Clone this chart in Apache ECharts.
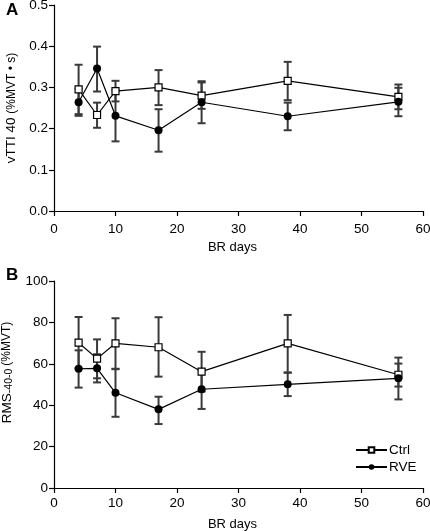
<!DOCTYPE html>
<html>
<head>
<meta charset="utf-8">
<script src="https://cdn.jsdelivr.net/npm/echarts@6/dist/echarts.min.js"></script>
<style>
html,body{margin:0;padding:0;background:#fff;}
#chart{width:430px;height:531px;}
</style>
</head>
<body>
<div id="chart"></div>
<script>
// ---- data ----
var days = [4, 7, 10, 17, 24, 38, 56];
var xTicks = [0, 10, 20, 30, 40, 50, 60];

// Panel A: vTTI40
var ctrlA   = [0.295, 0.233, 0.291, 0.300, 0.280, 0.316, 0.277];
var ctrlAHi = [0.355, 0.263, 0.316, 0.342, 0.312, 0.362, 0.307];
var ctrlALo = [0.235, 0.202, 0.266, 0.257, 0.248, 0.269, 0.247];
var rveA    = [0.264, 0.346, 0.231, 0.196, 0.264, 0.230, 0.265];
var rveAHi  = [0.297, 0.399, 0.293, 0.247, 0.315, 0.263, 0.299];
var rveALo  = [0.231, 0.290, 0.169, 0.144, 0.213, 0.196, 0.230];
var yTicksA = [0.0, 0.1, 0.2, 0.3, 0.4, 0.5];

// Panel B: RMS-40-0
var ctrlB   = [70.2, 62.5, 69.9, 68.0, 56.2, 69.9, 54.7];
var ctrlBHi = [82.6, 71.8, 82.0, 82.5, 65.8, 83.6, 60.1];
var ctrlBLo = [57.8, 53.0, 57.4, 53.8, 46.6, 55.7, 49.0];
var rveB    = [57.6, 57.8, 46.0, 38.0, 47.7, 50.1, 53.0];
var rveBHi  = [66.5, 64.6, 57.6, 44.1, 57.2, 55.8, 63.0];
var rveBLo  = [48.5, 51.0, 34.4, 30.9, 38.2, 44.4, 42.8];
var yTicksB = [0, 20, 40, 60, 80, 100];

var seriesNames = ['Ctrl', 'RVE'];

// ---- build ----
var FONT = 'Liberation Sans, Arial, sans-serif';
var LBL = 13.5;
function pairs(xs, ys) { return xs.map(function (x, i) { return [x, ys[i]]; }); }
function errData(xs, lo, hi) { return xs.map(function (x, i) { return [x, lo[i], hi[i]]; }); }

function errSeries(idx, lo, hi) {
  return {
    type: 'custom',
    xAxisIndex: idx, yAxisIndex: idx,
    z: 1,
    silent: true,
    data: errData(days, lo, hi),
    encode: { x: 0, y: [1, 2] },
    renderItem: function (params, api) {
      var x = api.value(0);
      var p1 = api.coord([x, api.value(1)]);
      var p2 = api.coord([x, api.value(2)]);
      var hw = 4;
      var st = { stroke: '#3a3a3a', lineWidth: 2 };
      return {
        type: 'group',
        children: [
          { type: 'line', shape: { x1: p1[0], y1: p1[1], x2: p2[0], y2: p2[1] }, style: st },
          { type: 'line', shape: { x1: p1[0] - hw, y1: p1[1], x2: p1[0] + hw, y2: p1[1] }, style: st },
          { type: 'line', shape: { x1: p2[0] - hw, y1: p2[1], x2: p2[0] + hw, y2: p2[1] }, style: st }
        ]
      };
    }
  };
}

function lineSeries(name, idx, ys, isCtrl) {
  return {
    name: name,
    type: 'line',
    xAxisIndex: idx, yAxisIndex: idx,
    z: 5,
    data: pairs(days, ys),
    symbol: isCtrl ? 'rect' : 'circle',
    symbolSize: isCtrl ? 7 : 8,
    showAllSymbol: true,
    lineStyle: { color: '#000', width: 1.2 },
    itemStyle: isCtrl ? { color: '#fff', borderColor: '#000', borderWidth: 1.2 } : { color: '#000', borderColor: '#000', borderWidth: 0 },
    emphasis: { disabled: true },
    animation: false
  };
}

var axisCommon = {
  axisLine: { show: true, onZero: false, lineStyle: { color: '#000', width: 1.2 } },
  axisTick: { show: true, inside: false, length: 5, lineStyle: { color: '#000', width: 1.2 } },
  splitLine: { show: false }
};

function xAxis(idx, margin) {
  return Object.assign({}, JSON.parse(JSON.stringify(axisCommon)), {
    type: 'value', gridIndex: idx,
    min: xTicks[0], max: xTicks[xTicks.length - 1], interval: 10,
    name: 'BR days', nameLocation: 'middle', nameGap: 30,
    nameTextStyle: { color: '#000', fontSize: 13, fontFamily: FONT, padding: [0, 12, 0, 0] },
    axisLabel: { color: '#000', fontSize: LBL, fontFamily: FONT, margin: margin }
  });
}

var option = {
  animation: false,
  backgroundColor: '#fff',
  textStyle: { fontFamily: FONT },
  grid: [
    { left: 54, right: 7, top: 5, height: 206, outerBoundsMode: 'none', containLabel: false },
    { left: 54, right: 7, top: 281, height: 207, outerBoundsMode: 'none', containLabel: false }
  ],
  xAxis: [xAxis(0, 11), xAxis(1, 8)],
  yAxis: [
    Object.assign({}, JSON.parse(JSON.stringify(axisCommon)), {
      type: 'value', gridIndex: 0,
      min: yTicksA[0], max: yTicksA[yTicksA.length - 1], interval: 0.1,
      axisLabel: { color: '#000', fontSize: LBL, fontFamily: FONT, margin: 6,
        formatter: function (v) { return v.toFixed(1); } },
      name: '{a|vTTI 40 }{b|(%MVT • s)}',
      nameLocation: 'middle', nameGap: 35, nameRotate: 90,
      nameTextStyle: { rich: {
        a: { fontSize: 13.5, fontFamily: FONT, color: '#000' },
        b: { fontSize: 12, fontFamily: FONT, color: '#000' }
      } }
    }),
    Object.assign({}, JSON.parse(JSON.stringify(axisCommon)), {
      type: 'value', gridIndex: 1,
      min: yTicksB[0], max: yTicksB[yTicksB.length - 1], interval: 20,
      axisLabel: { color: '#000', fontSize: LBL, fontFamily: FONT, margin: 6 },
      name: '{a|RMS}{s|-40-0 }{b|(%MVT)}',
      nameLocation: 'middle', nameGap: 35, nameRotate: 90,
      nameTextStyle: { padding: [0, 0, 0, 24], rich: {
        a: { fontSize: 13.5, fontFamily: FONT, color: '#000' },
        s: { fontSize: 10.5, fontFamily: FONT, color: '#000', padding: [4, 0, 0, 0] },
        b: { fontSize: 12, fontFamily: FONT, color: '#000' }
      } }
    })
  ],
  legend: {
    orient: 'vertical',
    left: 350, top: 438,
    itemWidth: 31, itemHeight: 7, itemGap: 3,
    textStyle: { color: '#000', fontSize: 13.5, fontFamily: FONT, padding: [0, 0, 0, -3] },
    data: seriesNames
  },
  graphic: [
    { type: 'text', left: 6, top: 2, style: { text: 'A', fontSize: 17, fontWeight: 'bold', fontFamily: FONT, fill: '#000' } },
    { type: 'text', left: 6, top: 267, style: { text: 'B', fontSize: 17, fontWeight: 'bold', fontFamily: FONT, fill: '#000' } }
  ],
  series: [
    errSeries(0, ctrlALo, ctrlAHi),
    errSeries(0, rveALo, rveAHi),
    lineSeries(seriesNames[0], 0, ctrlA, true),
    lineSeries(seriesNames[1], 0, rveA, false),
    errSeries(1, ctrlBLo, ctrlBHi),
    errSeries(1, rveBLo, rveBHi),
    lineSeries(seriesNames[0], 1, ctrlB, true),
    lineSeries(seriesNames[1], 1, rveB, false)
  ]
};

var chart = echarts.init(document.getElementById('chart'), null, { renderer: 'canvas' });
chart.setOption(option);
</script>
</body>
</html>
